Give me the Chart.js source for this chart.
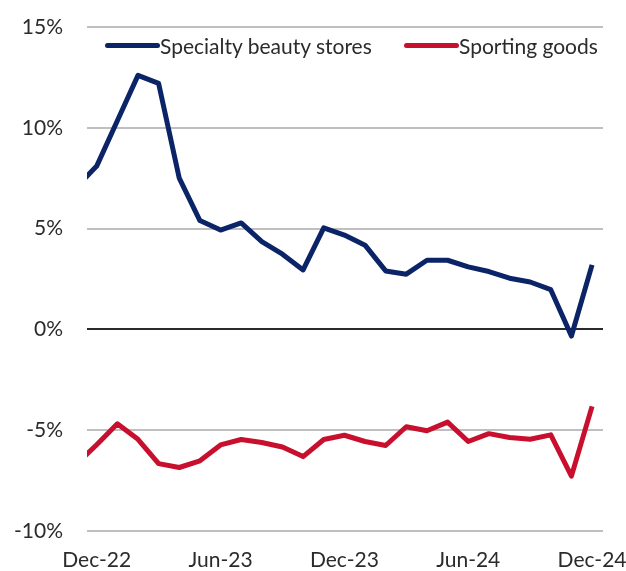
<!DOCTYPE html>
<html>
<head>
<meta charset="utf-8">
<title>Specialty beauty stores vs Sporting goods</title>
<script src="https://cdn.jsdelivr.net/npm/chart.js@4.4.1/dist/chart.umd.min.js"></script>
<style>
  html, body { margin: 0; padding: 0; background: #ffffff; }
  #wrap { position: relative; width: 626px; height: 571px; }
  #chart { position: absolute; left: 0; top: 0; }
  .legend-item {
    position: absolute; top: 33px; height: 25px;
    display: flex; align-items: center;
    font-family: Lato, "Noto Sans", sans-serif; font-size: 21px; line-height: 25px;
    color: #2b2b2b; white-space: nowrap;
  }
  .legend-line { display: inline-block; width: 55px; height: 5px; border-radius: 2.5px; }
</style>
</head>
<body>
<div id="wrap">
  <canvas id="chart" width="626" height="571"></canvas>
</div>
<script>
// Monthly year-over-year growth, Nov-22 through Dec-24 (index 0 = Dec-22)
const months = ['Nov-22', 'Dec-22', 'Jan-23', 'Feb-23', 'Mar-23', 'Apr-23', 'May-23', 'Jun-23',
  'Jul-23', 'Aug-23', 'Sep-23', 'Oct-23', 'Nov-23', 'Dec-23', 'Jan-24', 'Feb-24', 'Mar-24',
  'Apr-24', 'May-24', 'Jun-24', 'Jul-24', 'Aug-24', 'Sep-24', 'Oct-24', 'Nov-24', 'Dec-24'];

const beautyStores = [7.05, 8.1, 10.35, 12.6, 12.2, 7.5, 5.4, 4.93, 5.28, 4.35, 3.73, 2.95,
  5.04, 4.68, 4.18, 2.9, 2.74, 3.43, 3.43, 3.1, 2.87, 2.54, 2.35, 1.97, -0.33, 3.2];

const sportingGoods = [-6.7, -5.72, -4.68, -5.45, -6.66, -6.85, -6.52, -5.73, -5.46, -5.61,
  -5.83, -6.31, -5.46, -5.25, -5.56, -5.76, -4.83, -5.03, -4.6, -5.56, -5.17, -5.36, -5.45,
  -5.23, -7.28, -3.82];

const seriesNames = ['Specialty beauty stores', 'Sporting goods'];
const seriesColors = ['#0b2468', '#c8102e'];

// Axis labels every six months
const xTickLabels = ['Dec-22', 'Jun-23', 'Dec-23', 'Jun-24', 'Dec-24'];
const xTickPositions = [0, 6, 12, 18, 24];
const yTicks = [-10, -5, 0, 5, 10, 15];

const FONT = 'Lato, "Noto Sans", sans-serif';

function toPoints(values) {
  // position 0 is Dec-22, so Nov-22 sits one step to the left
  return values.map((v, i) => ({ x: i - 1, y: v }));
}

const datasets = [beautyStores, sportingGoods].map((vals, k) => ({
  label: seriesNames[k],
  data: toPoints(vals),
  borderColor: seriesColors[k],
  backgroundColor: seriesColors[k],
  borderWidth: 5,
  pointRadius: 0,
  pointHoverRadius: 0,
  tension: 0,
  borderJoinStyle: 'round',
  borderCapStyle: 'butt',
  clip: 0
}));

const chart = new Chart(document.getElementById('chart'), {
  type: 'line',
  data: { datasets },
  options: {
    responsive: false,
    animation: false,
    devicePixelRatio: 1,
    layout: { padding: { top: 27, right: 23, left: 0, bottom: 0 } },
    plugins: { legend: { display: false }, tooltip: { enabled: false } },
    scales: {
      x: {
        type: 'linear',
        min: -0.47,
        max: 24.53,
        grid: { display: false, drawTicks: false },
        border: { display: false },
        afterBuildTicks: (scale) => { scale.ticks = xTickPositions.map(v => ({ value: v })); },
        afterFit: (scale) => { scale.height = 40; scale.paddingLeft = 0; scale.paddingRight = 0; },
        ticks: {
          autoSkip: false,
          maxRotation: 0,
          padding: 17,
          color: '#2b2b2b',
          font: { family: FONT, size: 21 },
          callback: (value) => {
            const idx = xTickPositions.indexOf(value);
            return idx >= 0 ? xTickLabels[idx] : '';
          }
        }
      },
      y: {
        min: -10,
        max: 15,
        afterBuildTicks: (scale) => { scale.ticks = yTicks.map(v => ({ value: v })); },
        afterFit: (scale) => { scale.width = 87; scale.paddingTop = 0; scale.paddingBottom = 0; },
        grid: {
          drawTicks: false,
          lineWidth: 2,
          color: (ctx) => (ctx.tick && ctx.tick.value === 0) ? '#2a2a2a' : '#bfbfbf'
        },
        border: { display: false },
        ticks: {
          padding: 24,
          color: '#2b2b2b',
          font: { family: FONT, size: 21 },
          callback: (value) => value + '%'
        }
      }
    }
  }
});

// Legend drawn as HTML over the top of the plot area
const legendLefts = [105, 404];
chart.data.datasets.forEach((ds, k) => {
  const item = document.createElement('div');
  item.className = 'legend-item';
  item.style.left = legendLefts[k] + 'px';
  const line = document.createElement('span');
  line.className = 'legend-line';
  line.style.background = ds.borderColor;
  const text = document.createElement('span');
  text.textContent = ds.label;
  item.appendChild(line);
  item.appendChild(text);
  document.getElementById('wrap').appendChild(item);
});
</script>
</body>
</html>
